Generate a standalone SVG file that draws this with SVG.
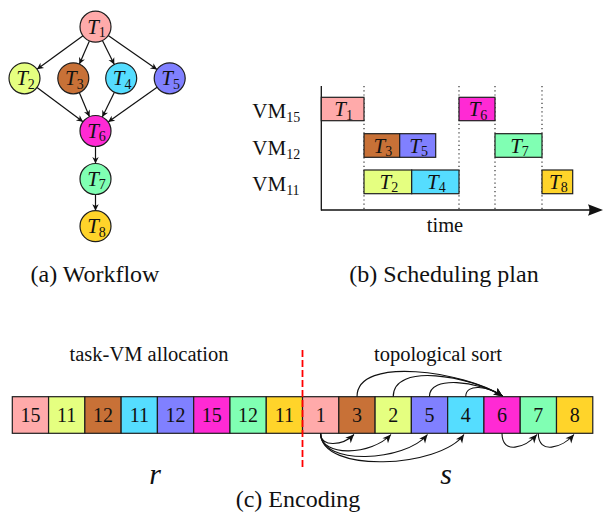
<svg xmlns="http://www.w3.org/2000/svg" width="604" height="513" viewBox="0 0 604 513">
  <style>
    .node circle, .box rect, .cell rect { stroke: #1e1e1e; stroke-width: 1.2; }
    .edge { fill: none; stroke: #111; stroke-width: 1.2; marker-end: url(#tip); }
    .arc { fill: none; stroke: #111; stroke-width: 1.1; marker-end: url(#stealth); }
    .guide { stroke: #333; stroke-width: 1.2; stroke-dasharray: 1.2 3; }
    .c1 { fill: #ffaaaa; } .c2 { fill: #e5ff80; } .c3 { fill: #c87137; } .c4 { fill: #55ddff; }
    .c5 { fill: #8080ff; } .c6 { fill: #ff2ad4; } .c7 { fill: #80ffb3; } .c8 { fill: #ffd42a; }
  </style>
  <defs>
    <marker id="tip" markerUnits="userSpaceOnUse" markerWidth="10" markerHeight="10" viewBox="-8 -5 10 10" refX="0" refY="0" orient="auto">
      <path d="M0,0 L-6.5,-3.2 L-4.6,0 L-6.5,3.2 Z" fill="#111"/>
    </marker>
    <marker id="stealth" markerUnits="userSpaceOnUse" markerWidth="12" markerHeight="12" viewBox="-10 -6 12 12" refX="0" refY="0" orient="auto">
      <path d="M0,0 L-8.5,-3.8 L-6,0 L-8.5,3.8 Z" fill="#111"/>
    </marker>
  </defs>

  <!-- (a) workflow DAG -->
  <g id="wf-edges">
    <path class="edge" d="M83,35.8 L37,69.2"/>
    <path class="edge" d="M89.4,40.9 L79.4,64.1"/>
    <path class="edge" d="M102.4,40.6 L114.3,64.4"/>
    <path class="edge" d="M108.2,35.6 L157,69.5"/>
    <path class="edge" d="M37,87.5 L83,121.8"/>
    <path class="edge" d="M79.3,92.6 L89.5,116.7"/>
    <path class="edge" d="M114.4,92.2 L102.3,117.1"/>
    <path class="edge" d="M157.1,87.3 L108.1,122"/>
    <path class="edge" d="M95.5,142.5 L95.5,163.5"/>
    <path class="edge" d="M95.5,194.5 L95.5,210.7"/>
  </g>
  <g id="T1" class="node"><circle class="c1" cx="95.5" cy="26.7" r="15.5"/><text style="font-family:Liberation Serif" font-family="Liberation Serif" font-size="21" text-anchor="middle" fill="#111" x="96.5" y="33.5"><tspan font-style="italic">T</tspan><tspan font-size="14" dy="3.5">1</tspan></text></g>
  <g id="T2" class="node"><circle class="c2" cx="24.5" cy="78.3" r="15.5"/><text style="font-family:Liberation Serif" font-family="Liberation Serif" font-size="21" text-anchor="middle" fill="#111" x="25.5" y="85.1"><tspan font-style="italic">T</tspan><tspan font-size="14" dy="3.5">2</tspan></text></g>
  <g id="T3" class="node"><circle class="c3" cx="73.3" cy="78.3" r="15.5"/><text style="font-family:Liberation Serif" font-family="Liberation Serif" font-size="21" text-anchor="middle" fill="#111" x="74.3" y="85.1"><tspan font-style="italic">T</tspan><tspan font-size="14" dy="3.5">3</tspan></text></g>
  <g id="T4" class="node"><circle class="c4" cx="121.2" cy="78.3" r="15.5"/><text style="font-family:Liberation Serif" font-family="Liberation Serif" font-size="21" text-anchor="middle" fill="#111" x="122.2" y="85.1"><tspan font-style="italic">T</tspan><tspan font-size="14" dy="3.5">4</tspan></text></g>
  <g id="T5" class="node"><circle class="c5" cx="169.7" cy="78.3" r="15.5"/><text style="font-family:Liberation Serif" font-family="Liberation Serif" font-size="21" text-anchor="middle" fill="#111" x="170.7" y="85.1"><tspan font-style="italic">T</tspan><tspan font-size="14" dy="3.5">5</tspan></text></g>
  <g id="T6" class="node"><circle class="c6" cx="95.5" cy="131" r="15.5"/><text style="font-family:Liberation Serif" font-family="Liberation Serif" font-size="21" text-anchor="middle" fill="#111" x="96.5" y="137.8"><tspan font-style="italic">T</tspan><tspan font-size="14" dy="3.5">6</tspan></text></g>
  <g id="T7" class="node"><circle class="c7" cx="95.5" cy="179" r="15.5"/><text style="font-family:Liberation Serif" font-family="Liberation Serif" font-size="21" text-anchor="middle" fill="#111" x="96.5" y="185.8"><tspan font-style="italic">T</tspan><tspan font-size="14" dy="3.5">7</tspan></text></g>
  <g id="T8" class="node"><circle class="c8" cx="95.5" cy="226.2" r="15.5"/><text style="font-family:Liberation Serif" font-family="Liberation Serif" font-size="21" text-anchor="middle" fill="#111" x="96.5" y="233"><tspan font-style="italic">T</tspan><tspan font-size="14" dy="3.5">8</tspan></text></g>
  <text style="font-family:Liberation Serif" font-family="Liberation Serif" font-size="24" text-anchor="middle" fill="#111" x="95" y="282">(a) Workflow</text>

  <!-- (b) schedule on three VMs -->
  <g id="schedule-axes">
    <line class="guide" x1="364" y1="86" x2="364" y2="210"/>
    <line class="guide" x1="459" y1="86" x2="459" y2="210"/>
    <line class="guide" x1="495" y1="86" x2="495" y2="210"/>
    <line class="guide" x1="542" y1="86" x2="542" y2="210"/>
    <line x1="321.3" y1="86" x2="321.3" y2="210.6" stroke="#111" stroke-width="1.3"/>
    <line x1="321" y1="210" x2="592" y2="210" stroke="#111" stroke-width="1.3"/>
    <path d="M603,210 L588,204.2 Q591,210 588,215.8 Z" fill="#111"/>
  </g>
  <text style="font-family:Liberation Serif" font-family="Liberation Serif" font-size="21" fill="#111" x="252.3" y="117.5">VM<tspan font-size="14" dy="4">15</tspan></text>
  <text style="font-family:Liberation Serif" font-family="Liberation Serif" font-size="21" fill="#111" x="252.3" y="154.5">VM<tspan font-size="14" dy="4">12</tspan></text>
  <text style="font-family:Liberation Serif" font-family="Liberation Serif" font-size="21" fill="#111" x="252.3" y="191">VM<tspan font-size="14" dy="4">11</tspan></text>
  <g id="S-T1" class="box"><rect class="c1" x="321.3" y="97.3" width="42.7" height="23.4"/><text style="font-family:Liberation Serif" font-family="Liberation Serif" font-size="21" text-anchor="middle" fill="#111" x="343.6" y="116"><tspan font-style="italic">T</tspan><tspan font-size="14" dy="3.5">1</tspan></text></g>
  <g id="S-T6" class="box"><rect class="c6" x="459" y="97.3" width="36" height="23.4"/><text style="font-family:Liberation Serif" font-family="Liberation Serif" font-size="21" text-anchor="middle" fill="#111" x="478" y="116"><tspan font-style="italic">T</tspan><tspan font-size="14" dy="3.5">6</tspan></text></g>
  <g id="S-T3" class="box"><rect class="c3" x="364" y="133.7" width="35.7" height="23.6"/><text style="font-family:Liberation Serif" font-family="Liberation Serif" font-size="21" text-anchor="middle" fill="#111" x="382.8" y="152.5"><tspan font-style="italic">T</tspan><tspan font-size="14" dy="3.5">3</tspan></text></g>
  <g id="S-T5" class="box"><rect class="c5" x="399.7" y="133.7" width="36" height="23.6"/><text style="font-family:Liberation Serif" font-family="Liberation Serif" font-size="21" text-anchor="middle" fill="#111" x="418.7" y="152.5"><tspan font-style="italic">T</tspan><tspan font-size="14" dy="3.5">5</tspan></text></g>
  <g id="S-T7" class="box"><rect class="c7" x="495" y="133.7" width="47" height="23.6"/><text style="font-family:Liberation Serif" font-family="Liberation Serif" font-size="21" text-anchor="middle" fill="#111" x="519.5" y="152.5"><tspan font-style="italic">T</tspan><tspan font-size="14" dy="3.5">7</tspan></text></g>
  <g id="S-T2" class="box"><rect class="c2" x="364" y="170" width="47.7" height="23.7"/><text style="font-family:Liberation Serif" font-family="Liberation Serif" font-size="21" text-anchor="middle" fill="#111" x="388.8" y="188.8"><tspan font-style="italic">T</tspan><tspan font-size="14" dy="3.5">2</tspan></text></g>
  <g id="S-T4" class="box"><rect class="c4" x="411.7" y="170" width="47.3" height="23.7"/><text style="font-family:Liberation Serif" font-family="Liberation Serif" font-size="21" text-anchor="middle" fill="#111" x="436.3" y="188.8"><tspan font-style="italic">T</tspan><tspan font-size="14" dy="3.5">4</tspan></text></g>
  <g id="S-T8" class="box"><rect class="c8" x="542" y="170" width="30.7" height="23.7"/><text style="font-family:Liberation Serif" font-family="Liberation Serif" font-size="21" text-anchor="middle" fill="#111" x="558.3" y="188.8"><tspan font-style="italic">T</tspan><tspan font-size="14" dy="3.5">8</tspan></text></g>
  <text style="font-family:Liberation Serif" font-family="Liberation Serif" font-size="20.5" text-anchor="middle" fill="#111" x="445" y="232">time</text>
  <text style="font-family:Liberation Serif" font-family="Liberation Serif" font-size="24" text-anchor="middle" fill="#111" x="444" y="282">(b) Scheduling plan</text>

  <!-- (c) chromosome encoding: r (allocation) | s (order) -->
  <text style="font-family:Liberation Serif" font-family="Liberation Serif" font-size="20.5" text-anchor="middle" fill="#111" x="149" y="360.5">task-VM allocation</text>
  <text style="font-family:Liberation Serif" font-family="Liberation Serif" font-size="20.5" text-anchor="middle" fill="#111" x="438" y="360.5">topological sort</text>
  <g id="r1" class="cell"><rect class="c1" x="12.3" y="396.7" width="36.28" height="36.6"/><text style="font-family:Liberation Serif" font-family="Liberation Serif" font-size="20" text-anchor="middle" fill="#111" x="30.44" y="422">15</text></g>
  <g id="r2" class="cell"><rect class="c2" x="48.58" y="396.7" width="36.28" height="36.6"/><text style="font-family:Liberation Serif" font-family="Liberation Serif" font-size="20" text-anchor="middle" fill="#111" x="66.72" y="422">11</text></g>
  <g id="r3" class="cell"><rect class="c3" x="84.86" y="396.7" width="36.28" height="36.6"/><text style="font-family:Liberation Serif" font-family="Liberation Serif" font-size="20" text-anchor="middle" fill="#111" x="103" y="422">12</text></g>
  <g id="r4" class="cell"><rect class="c4" x="121.14" y="396.7" width="36.28" height="36.6"/><text style="font-family:Liberation Serif" font-family="Liberation Serif" font-size="20" text-anchor="middle" fill="#111" x="139.28" y="422">11</text></g>
  <g id="r5" class="cell"><rect class="c5" x="157.42" y="396.7" width="36.28" height="36.6"/><text style="font-family:Liberation Serif" font-family="Liberation Serif" font-size="20" text-anchor="middle" fill="#111" x="175.56" y="422">12</text></g>
  <g id="r6" class="cell"><rect class="c6" x="193.7" y="396.7" width="36.28" height="36.6"/><text style="font-family:Liberation Serif" font-family="Liberation Serif" font-size="20" text-anchor="middle" fill="#111" x="211.84" y="422">15</text></g>
  <g id="r7" class="cell"><rect class="c7" x="229.98" y="396.7" width="36.28" height="36.6"/><text style="font-family:Liberation Serif" font-family="Liberation Serif" font-size="20" text-anchor="middle" fill="#111" x="248.12" y="422">12</text></g>
  <g id="r8" class="cell"><rect class="c8" x="266.26" y="396.7" width="36.28" height="36.6"/><text style="font-family:Liberation Serif" font-family="Liberation Serif" font-size="20" text-anchor="middle" fill="#111" x="284.4" y="422">11</text></g>
  <g id="s1" class="cell"><rect class="c1" x="302.54" y="396.7" width="36.28" height="36.6"/><text style="font-family:Liberation Serif" font-family="Liberation Serif" font-size="20" text-anchor="middle" fill="#111" x="320.68" y="422">1</text></g>
  <g id="s2" class="cell"><rect class="c3" x="338.82" y="396.7" width="36.28" height="36.6"/><text style="font-family:Liberation Serif" font-family="Liberation Serif" font-size="20" text-anchor="middle" fill="#111" x="356.96" y="422">3</text></g>
  <g id="s3" class="cell"><rect class="c2" x="375.1" y="396.7" width="36.28" height="36.6"/><text style="font-family:Liberation Serif" font-family="Liberation Serif" font-size="20" text-anchor="middle" fill="#111" x="393.24" y="422">2</text></g>
  <g id="s4" class="cell"><rect class="c5" x="411.38" y="396.7" width="36.28" height="36.6"/><text style="font-family:Liberation Serif" font-family="Liberation Serif" font-size="20" text-anchor="middle" fill="#111" x="429.52" y="422">5</text></g>
  <g id="s5" class="cell"><rect class="c4" x="447.66" y="396.7" width="36.28" height="36.6"/><text style="font-family:Liberation Serif" font-family="Liberation Serif" font-size="20" text-anchor="middle" fill="#111" x="465.8" y="422">4</text></g>
  <g id="s6" class="cell"><rect class="c6" x="483.94" y="396.7" width="36.28" height="36.6"/><text style="font-family:Liberation Serif" font-family="Liberation Serif" font-size="20" text-anchor="middle" fill="#111" x="502.08" y="422">6</text></g>
  <g id="s7" class="cell"><rect class="c7" x="520.22" y="396.7" width="36.28" height="36.6"/><text style="font-family:Liberation Serif" font-family="Liberation Serif" font-size="20" text-anchor="middle" fill="#111" x="538.36" y="422">7</text></g>
  <g id="s8" class="cell"><rect class="c8" x="556.5" y="396.7" width="36.28" height="36.6"/><text style="font-family:Liberation Serif" font-family="Liberation Serif" font-size="20" text-anchor="middle" fill="#111" x="574.64" y="422">8</text></g>
  <line x1="302.5" y1="350" x2="302.5" y2="468" stroke="#ff0000" stroke-width="1.8" stroke-dasharray="7 3"/>
  <g id="enc-arcs">
    <path class="arc" d="M357,396.7 C357,355 465,372 502.5,396"/>
    <path class="arc" d="M393.2,396.7 C393.2,362 470,376 502.5,396"/>
    <path class="arc" d="M429.4,396.7 C429.4,375 478,381 502.5,396"/>
    <path class="arc" d="M465.7,396.7 C465.7,383 488,386 502.5,396"/>
    <path class="arc" d="M320.6,433.3 C320.6,448 343,445.5 354,434.5"/>
    <path class="arc" d="M320.6,433.3 C320.6,458 372,455 391,434.5"/>
    <path class="arc" d="M320.6,433.3 C320.6,466 405,462 427.5,434.5"/>
    <path class="arc" d="M320.6,433.3 C320.6,474 440,468 464,434.5"/>
    <path class="arc" d="M502,433.3 C502,455 525,448 537,434.5"/>
    <path class="arc" d="M538.3,433.3 C538.3,455 562,448 574,434.5"/>
  </g>
  <text style="font-family:Liberation Serif" font-family="Liberation Serif" font-size="30" font-style="italic" text-anchor="middle" fill="#111" x="155" y="484">r</text>
  <text style="font-family:Liberation Serif" font-family="Liberation Serif" font-size="30" font-style="italic" text-anchor="middle" fill="#111" x="446" y="484">s</text>
  <text style="font-family:Liberation Serif" font-family="Liberation Serif" font-size="24" text-anchor="middle" fill="#111" x="298" y="507">(c) Encoding</text>
</svg>
